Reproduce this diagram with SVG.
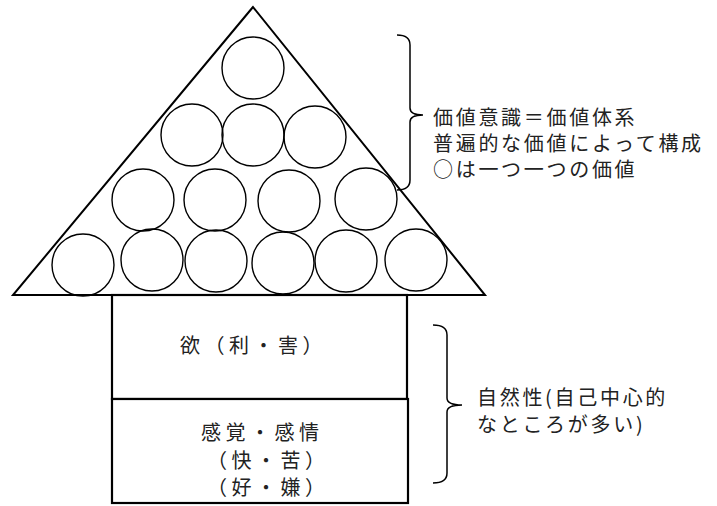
<svg xmlns="http://www.w3.org/2000/svg" width="717" height="506" viewBox="0 0 717 506">
<style>
.t{font-family:"Noto Sans CJK JP","Noto Sans",sans-serif;font-size:20px;fill:#222;letter-spacing:2.7px}
.r{font-family:"Noto Sans CJK JP","Noto Sans",sans-serif;font-size:20px;fill:#222;letter-spacing:4.5px}
.c{fill:none;stroke:#000;stroke-width:1.4}
.b{fill:none;stroke:#000;stroke-width:1.5}
</style>
<rect width="717" height="506" fill="#fff"/>
<g id="pyramid">
<polygon points="253,7 13,295 485,295" fill="#fff" stroke="#000" stroke-width="2"/>
<circle class="c" cx="253" cy="68" r="31"/>
<circle class="c" cx="192" cy="135" r="31"/>
<circle class="c" cx="253" cy="135" r="31"/>
<circle class="c" cx="315" cy="137" r="31"/>
<circle class="c" cx="143" cy="200" r="31"/>
<circle class="c" cx="215" cy="200" r="31"/>
<circle class="c" cx="289" cy="201" r="31"/>
<circle class="c" cx="366" cy="199" r="31"/>
<circle class="c" cx="83" cy="265" r="31"/>
<circle class="c" cx="152" cy="260" r="31"/>
<circle class="c" cx="216" cy="261" r="31"/>
<circle class="c" cx="283" cy="263" r="31"/>
<circle class="c" cx="346" cy="261" r="31"/>
<circle class="c" cx="416" cy="260" r="31"/>
</g>
<g id="desire">
<rect x="112" y="295" width="295" height="104" fill="#fff" stroke="#000" stroke-width="2.2"/>
<text class="r" x="180" y="353">欲（利・害）</text>
</g>
<g id="senses">
<rect x="112" y="399" width="296" height="104" fill="#fff" stroke="#000" stroke-width="2.2"/>
<text class="r" x="201" y="440">感覚・感情</text>
<text class="r" x="207" y="468">（快・苦）</text>
<text class="r" x="207" y="495">（好・嫌）</text>
</g>
<g id="connectors">
<path class="b" d="M397,35 Q410,35 410,45 L410,108 Q410,115 423,115 Q410,115 410,122 L410,180 Q410,190 397,190"/>
<path class="b" d="M433,325 Q447,325 447,335 L447,398 Q447,405 462,405 Q447,405 447,412 L447,473 Q447,483 433,483"/>
</g>
<g id="label-values">
<text class="t" x="433" y="125">価値意識＝価値体系</text>
<text class="t" x="433" y="151">普遍的な価値によって構成</text>
<text class="t" x="433" y="177">○は一つ一つの価値</text>
</g>
<g id="label-nature">
<text class="t" x="477" y="405">自然性(自己中心的</text>
<text class="t" x="477" y="432">なところが多い)</text>
</g>
</svg>
